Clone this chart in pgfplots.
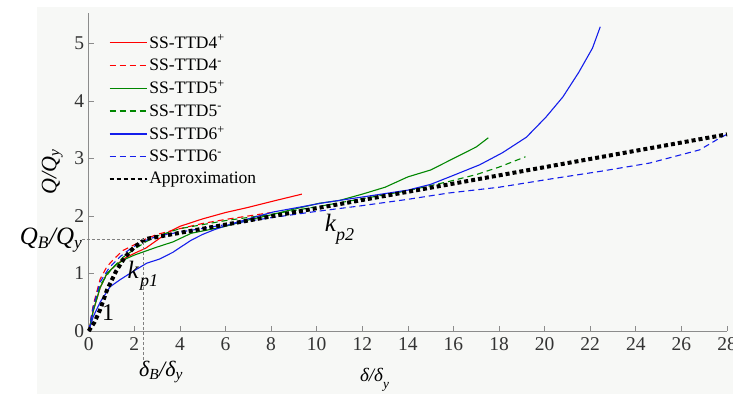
\documentclass[border=0pt]{standalone}
\usepackage{fontspec}
\setmainfont{Liberation Serif}
\usepackage{pgfplots}
\pgfplotsset{compat=1.18}
\definecolor{bgc}{RGB}{247,248,246}
\definecolor{cred}{RGB}{255,0,0}
\definecolor{cgreen}{RGB}{0,135,0}
\definecolor{cblue}{RGB}{20,30,235}
\begin{document}
\begin{tikzpicture}
\useasboundingbox (0,0) rectangle (733pt,394pt);
\fill[white] (0,0) rectangle (733pt,394pt);
\fill[bgc] (37pt,0) rectangle (733pt,387pt);
\begin{axis}[
  at={(88.7pt,63pt)}, anchor=south west,
  scale only axis, width=638.3pt, height=318pt,
  xmin=0, xmax=28, ymin=0, ymax=5.53,
  axis x line=bottom, axis y line=left,
  axis line style={-, draw=gray!90, line width=0.8pt},
  xtick={0,2,...,28}, ytick={0,1,2,3,4,5},
  tick align=inside, major tick length=5pt,
  tick style={draw=gray!90, line width=0.7pt},
  /pgf/number format/assume math mode=true,
  tick label style={font=\fontsize{19.5}{21}\selectfont, text=black!80},
  xticklabel style={yshift=-3pt},
  yticklabel style={xshift=-1pt},
  clip=false,
  legend cell align=left,
  legend style={draw=none, fill=none, at={(axis cs:0.75,5.22)}, anchor=north west,
    font=\fontsize{17.5}{19}\selectfont, row sep=5pt,
    /tikz/every even column/.append style={column sep=2pt}},
  legend image code/.code={\draw[#1, line width=1.3pt] (0pt,0pt) -- (37pt,0pt);},
]
% SS-TTD4+
\addplot[cred, line width=1.1pt] coordinates {
(0,0) (0.2,0.35) (0.5,0.75) (0.8,1.0) (1.2,1.15) (1.6,1.27) (2.0,1.35) (2.5,1.44) (3.0,1.58) (3.5,1.72) (4.0,1.82) (5.0,1.95) (6.0,2.06) (7.0,2.15) (8.0,2.25) (9.35,2.38)};
\addlegendentry{SS-TTD4\textsuperscript{+}}
% SS-TTD4-
\addplot[cred, line width=1.1pt, dash pattern=on 6pt off 4pt] coordinates {
(0,0) (0.2,0.45) (0.5,0.9) (0.8,1.12) (1.1,1.25) (1.5,1.4) (2.0,1.5) (2.5,1.6) (3.0,1.68) (4.0,1.78) (5.0,1.87) (6.0,1.94) (7.0,2.0) (8.0,2.06)};
\addlegendentry{SS-TTD4\textsuperscript{-}}
% SS-TTD5+
\addplot[cgreen, line width=1.1pt] coordinates {
(0,0) (0.2,0.35) (0.5,0.75) (0.8,1.0) (1.2,1.15) (1.6,1.25) (2.0,1.32) (3.0,1.46) (3.7,1.55) (4.5,1.7) (5.9,1.81) (7.0,1.93) (8.0,2.02) (8.8,2.1) (10.1,2.22) (11.0,2.27) (12.0,2.38) (13.0,2.5) (14.0,2.68) (15.0,2.8) (16.0,3.0) (17.0,3.2) (17.53,3.36)};
\addlegendentry{SS-TTD5\textsuperscript{+}}
% SS-TTD5-
\addplot[cgreen, line width=1.1pt, dash pattern=on 6pt off 4pt] coordinates {
(0,0) (0.2,0.4) (0.5,0.8) (1.0,1.08) (1.5,1.28) (2.0,1.42) (2.5,1.55) (3.0,1.65) (4.0,1.78) (6.0,1.92) (8.0,2.03) (10.0,2.16) (12.0,2.3) (14.0,2.44) (15.8,2.6) (17.0,2.72) (18.0,2.85) (19.16,3.03)};
\addlegendentry{SS-TTD5\textsuperscript{-}}
% SS-TTD6+
\addplot[cblue, line width=1.1pt] coordinates {
(0,0) (0.2,0.25) (0.5,0.5) (0.94,0.77) (1.37,0.89) (2.0,1.05) (2.55,1.18) (3.1,1.25) (3.7,1.37) (4.0,1.45) (4.5,1.58) (5.0,1.68) (5.5,1.76) (6.0,1.83) (7.0,1.95) (8.1,2.07) (9.2,2.15) (10.3,2.23) (12.0,2.33) (14.0,2.45) (15.0,2.55) (15.83,2.68) (17.15,2.89) (18.15,3.1) (19.2,3.37) (20.06,3.72) (20.8,4.07) (21.5,4.5) (22.1,4.92) (22.44,5.29)};
\addlegendentry{SS-TTD6\textsuperscript{+}}
% SS-TTD6-
\addplot[cblue, line width=1.1pt, dash pattern=on 6pt off 4pt] coordinates {
(0,0) (0.2,0.42) (0.5,0.85) (0.9,1.1) (1.4,1.3) (1.9,1.45) (2.4,1.56) (3.0,1.65) (4.0,1.72) (6.0,1.85) (8.0,1.97) (10.0,2.08) (12.0,2.18) (14.0,2.29) (15.8,2.4) (18.0,2.5) (20.2,2.64) (22.5,2.78) (24.6,2.92) (26.8,3.15) (27.7,3.36) (28.0,3.42)};
\addlegendentry{SS-TTD6\textsuperscript{-}}
% Approximation
\addplot[black, line width=4pt, dash pattern=on 4pt off 3pt] coordinates {
(0,0) (0.25,0.15) (0.5,0.37) (0.8,0.71) (1.2,1.04) (1.6,1.29) (2.0,1.46) (2.5,1.6) (28,3.42)};
\addlegendentry{Approximation}
% guides
\draw[gray, line width=0.6pt, dash pattern=on 3pt off 2pt] (axis cs:-0.3,1.6) -- (axis cs:2.41,1.6) -- (axis cs:2.41,-0.5);
% labels
\node[font=\fontsize{25}{27}\selectfont\itshape] at (axis cs:-1.65,1.58) {Q\textsubscript{B}/Q\textsubscript{y}};
\node[font=\fontsize{22}{24}\selectfont\itshape, rotate=90] at (axis cs:-1.6,2.77) {Q/Q\textsubscript{y}};
\node[font=\fontsize{19}{21}\selectfont\itshape] at (axis cs:12.55,-0.85) {δ/δ\raisebox{-0.55ex}{\textsubscript{y}}};
\node[font=\fontsize{22}{24}\selectfont\itshape] at (axis cs:3.17,-0.71) {δ\textsubscript{B}/δ\textsubscript{y}};
\node[font=\fontsize{24}{26}\selectfont] at (axis cs:0.85,0.32) {1};
\node[font=\fontsize{25}{27}\selectfont\itshape] at (axis cs:1.95,1.06) {k};
\node[font=\fontsize{18}{20}\selectfont\itshape] at (axis cs:2.65,0.84) {p1};
\node[font=\fontsize{25}{27}\selectfont\itshape] at (axis cs:10.6,1.88) {k};
\node[font=\fontsize{18}{20}\selectfont\itshape] at (axis cs:11.25,1.65) {p2};
\end{axis}
\end{tikzpicture}
\end{document}
